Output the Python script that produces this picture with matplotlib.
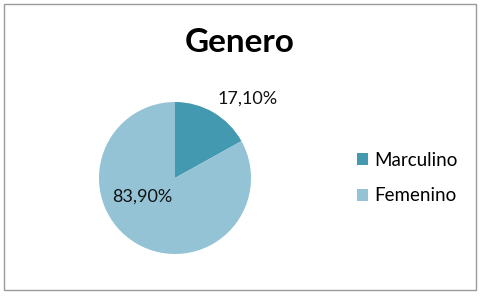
import matplotlib.pyplot as plt
from matplotlib.patches import Rectangle, Patch

categorias = ['Marculino', 'Femenino']
valores = [17.10, 83.90]
etiquetas = ['17,10%', '83,90%']
colores = ['#4299B0', '#93C3D5']

plt.rcParams['font.family'] = ['Lato', 'DejaVu Sans']

fig = plt.figure(figsize=(4.82, 3.02), dpi=100)
fig.patches.append(Rectangle((4 / 482, 12 / 302), 472 / 482, 286 / 302,
                             transform=fig.transFigure, fill=False,
                             edgecolor='#9a9a9a', linewidth=1))

ax = fig.add_axes([99 / 482, 48 / 302, 152 / 482, 152 / 302])
ax.pie(valores, colors=colores, startangle=90, counterclock=False,
       radius=1, wedgeprops=dict(linewidth=0))
ax.set_xlim(-1, 1)
ax.set_ylim(-1, 1)
ax.set_aspect('equal')
ax.axis('off')

pos_etiquetas = [(0.96, 1.05), (-0.43, -0.25)]
for (x, y), t in zip(pos_etiquetas, etiquetas):
    ax.text(x, y, t, ha='center', va='center', fontsize=13, color='#111111')

fig.text(240 / 482, 1 - 43 / 302, 'Genero', ha='center', va='center',
         fontsize=24, fontweight='bold')

handles = [Patch(facecolor=c, edgecolor='none') for c in colores]
fig.legend(handles, categorias, loc='center left',
           bbox_to_anchor=(340 / 482, 1 - 178 / 302), frameon=False,
           fontsize=13.5, handlelength=0.6, handleheight=0.6,
           handletextpad=0.3, labelspacing=1.0)

fig.savefig('out.png', dpi=100)
